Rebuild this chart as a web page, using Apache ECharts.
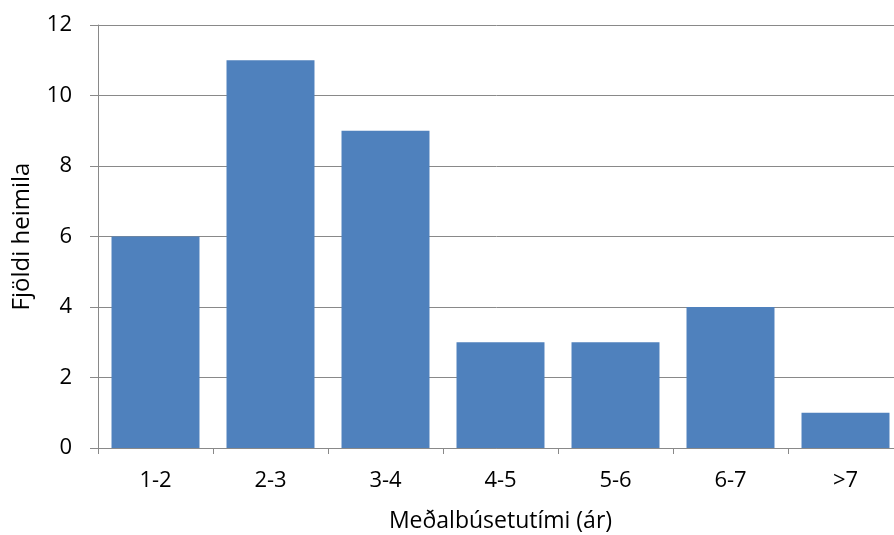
<!DOCTYPE html>
<html><head><meta charset="utf-8">
<script src="https://cdn.jsdelivr.net/npm/echarts@6/dist/echarts.min.js"></script>
<style>html,body{margin:0;padding:0;background:#fff}#c{width:894px;height:535px}</style>
</head><body><div id="c"></div>
<script>
const categories = ['1-2','2-3','3-4','4-5','5-6','6-7','>7'];
const values = [6, 11, 9, 3, 3, 4, 1];
const yTicks = [0, 2, 4, 6, 8, 10, 12];
const xName = 'Meðalbúsetutími (ár)';
const yName = 'Fjöldi heimila';

const font = 'Open Sans';
const chart = echarts.init(document.getElementById('c'), null, {renderer:'canvas'});
chart.setOption({
  animation: false,
  grid: {left: 98, right: -9, top: 25, bottom: 87, containLabel: false, outerBoundsMode: 'none'},
  xAxis: {
    type: 'category', data: categories,
    name: xName, nameLocation: 'middle', nameGap: 62,
    nameTextStyle: {fontFamily: font, fontSize: 23, color: '#000'},
    axisLine: {lineStyle: {color: '#898989', width: 1}},
    axisTick: {show: true, length: 6, lineStyle: {color: '#898989'}},
    axisLabel: {fontFamily: font, fontSize: 22, color: '#000', margin: 22},
    splitLine: {show: false}
  },
  yAxis: {
    type: 'value', min: yTicks[0], max: yTicks[yTicks.length-1], interval: 2,
    name: yName, nameLocation: 'middle', nameGap: 64,
    nameTextStyle: {fontFamily: font, fontSize: 24, color: '#000'},
    axisLine: {show: true, lineStyle: {color: '#898989', width: 1}},
    axisTick: {show: true, length: 8, lineStyle: {color: '#898989'}},
    axisLabel: {fontFamily: font, fontSize: 22, color: '#000', margin: 26},
    splitLine: {show: true, lineStyle: {color: '#898989', width: 1}}
  },
  series: [{
    type: 'bar', data: values, barCategoryGap: '23.5%',
    itemStyle: {color: '#4F81BD'}
  }]
});
</script></body></html>
